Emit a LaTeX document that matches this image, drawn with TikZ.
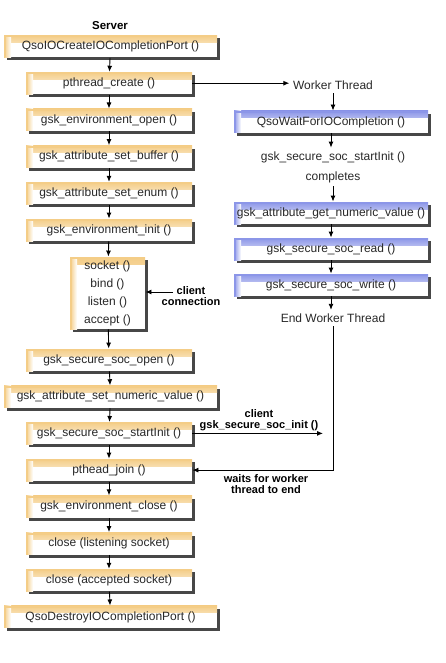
\documentclass[tikz,border=0pt]{standalone}
\usepackage{fontspec}
\setmainfont{Liberation Sans}
\usepackage{tikz}
\usetikzlibrary{positioning,shadows,arrows.meta}
\definecolor{srvedge}{RGB}{244,205,135}
\definecolor{wrkedge}{RGB}{140,150,232}
\definecolor{txtgray}{RGB}{40,40,40}
\tikzset{
  fbox/.style={fill=white,minimum height=22pt,inner sep=2pt,
    font=\fontsize{12}{14}\selectfont,text=txtgray,
    drop shadow={shadow xshift=3pt,shadow yshift=-3pt,fill=black!80,opacity=.9},
    path picture={
      \shade[top color=#1,bottom color=white] (path picture bounding box.north west) rectangle ([yshift=-7pt]path picture bounding box.north east);
      \shade[left color=#1,right color=white] (path picture bounding box.north west) rectangle ([xshift=7pt]path picture bounding box.south west);
      \fill[#1] (path picture bounding box.north west) rectangle ([yshift=-2pt]path picture bounding box.north east);
      \fill[#1] (path picture bounding box.north west) rectangle ([xshift=2pt]path picture bounding box.south west);
    }},
  srv/.style={fbox=srvedge,minimum width=166pt},
  srvwide/.style={fbox=srvedge,minimum width=213pt},
  wrk/.style={fbox=wrkedge,minimum width=194pt},
  txt/.style={font=\fontsize{12}{20}\selectfont,text=txtgray,align=center},
  lbl/.style={font=\fontsize{11}{11.5}\selectfont\bfseries,align=center}
}
\begin{document}
\begin{tikzpicture}[x=1pt,y=-1pt,line width=0.9pt,>={Latex[length=6pt,width=5pt]}]
  \useasboundingbox (0,0) rectangle (445,663);
  % server side
  \node (S) [lbl,font=\fontsize{11.5}{12}\selectfont\bfseries] at (110,26) {Server};
  \node (P1) [srvwide] at (110.5,46.5) {QsoIOCreateIOCompletionPort ()};
  \node (P2) [srv] at (109,83.2) {pthread\_create ()};
  \node (P3) [srv] at (109,119.9) {gsk\_environment\_open ()};
  \node (P4) [srv] at (109,156.6) {gsk\_attribute\_set\_buffer ()};
  \node (P5) [srv] at (109,193.3) {gsk\_attribute\_set\_enum ()};
  \node (P6) [srv] at (109,230) {gsk\_environment\_init ()};
  \node (P7) [fbox=srvedge,minimum width=75pt,minimum height=72pt,txt,font=\fontsize{12}{18}\selectfont] at (107.5,293) {socket ()\\bind ()\\listen ()\\accept ()};
  \node (P8) [srv] at (109,360) {gsk\_secure\_soc\_open ()};
  \node (P9) [srvwide] at (110.5,396.7) {gsk\_attribute\_set\_numeric\_value ()};
  \node (P10) [srv] at (109,433.4) {gsk\_secure\_soc\_startInit ()};
  \node (P11) [srv] at (109,470.1) {pthead\_join ()};
  \node (P12) [srv] at (109,506.8) {gsk\_environment\_close ()};
  \node (P13) [srv] at (109,543.5) {close (listening socket)};
  \node (P14) [srv] at (109,580.2) {close (accepted socket)};
  \node (P15) [srvwide] at (110.5,616.9) {QsoDestroyIOCompletionPort ()};
  \foreach \a/\b in {P1/P2,P2/P3,P3/P4,P4/P5,P5/P6,P6/P7,P7/P8,P8/P9,P9/P10,P10/P11,P11/P12,P12/P13,P13/P14,P14/P15}
    \draw[->] (\a) -- (\b);
  % worker thread
  \node (W0) [txt] at (333,85) {Worker Thread};
  \node (W1) [wrk] at (331,122) {QsoWaitForIOCompletion ()};
  \node (W2) [txt] at (333,167) {gsk\_secure\_soc\_startInit ()\\completes};
  \node (W3) [wrk] at (331,213) {gsk\_attribute\_get\_numeric\_value ()};
  \node (W4) [wrk] at (331,249) {gsk\_secure\_soc\_read ()};
  \node (W5) [wrk] at (331,285) {gsk\_secure\_soc\_write ()};
  \node (W6) [txt] at (333,318) {End Worker Thread};
  \foreach \a/\b in {W0/W1,W1/W2,W2/W3,W3/W4,W4/W5,W5/W6}
    \draw[->] (\a.south) -- (\a.south |- \b.north);
  \draw[->] (P2.east) -- (P2.east -| W0.west);
  \draw[->] (W6.south) |- (P11.east);
  % labels
  \node (L0) [lbl] at (191,296) {client\\connection};
  \coordinate (C0) at (173,292);
  \draw[->] (C0) -- (C0 -| P7.east);
  \coordinate (C1) at (323,433.4);
  \draw[->] (P10.east) -- (C1);
  \node (L1) [lbl] at (259,420) {client\\gsk\_secure\_soc\_init ()};
  \node (L2) [lbl] at (266,484) {waits for worker\\thread to end};
\end{tikzpicture}
\end{document}
